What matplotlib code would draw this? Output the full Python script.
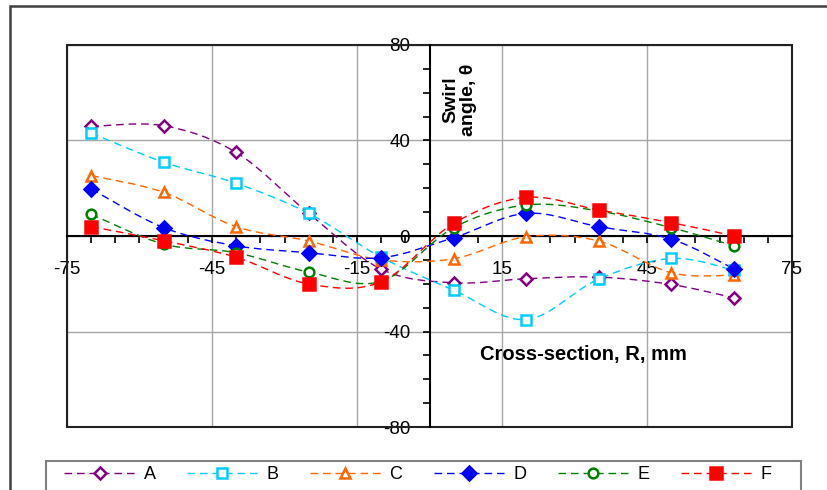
import matplotlib
matplotlib.use('Agg')
import matplotlib.pyplot as plt
from matplotlib.path import Path
from matplotlib.patches import PathPatch, Rectangle
from matplotlib.lines import Line2D
from matplotlib.ticker import MultipleLocator
import numpy as np

plt.rcParams['font.family'] = ['Liberation Sans', 'DejaVu Sans']

# radial positions across the section, mm
R = [-70, -55, -40, -25, -10, 5, 20, 35, 50, 63]

# swirl angle for each case, degrees
A = [45.9, 46.2, 35.0, 9.5, -13.9, -19.6, -17.9, -17.2, -20.3, -25.9]
B = [43.1, 30.9, 22.1, 9.5, -8.9, -22.7, -35.0, -18.0, -9.4, -14.3]
C = [25.3, 18.3, 3.9, -2.1, -10.0, -9.5, -0.3, -2.1, -15.4, -16.4]
D = [19.7, 3.5, -4.1, -7.0, -9.1, -0.7, 9.5, 3.9, -1.3, -13.8]
E = [9.1, -3.4, -7.0, -15.1, -19.0, 3.5, 13.0, 10.5, 3.5, -4.1]
F = [3.9, -2.0, -8.9, -20.1, -19.2, 5.3, 16.2, 10.9, 5.6, 0.0]

names = ['A', 'B', 'C', 'D', 'E', 'F']
series = [A, B, C, D, E, F]
colors = ['#800080', '#00CCFF', '#FF6600', '#0000FF', '#008000', '#FF0000']
markers = ['D', 's', '^', 'D', 'o', 's']
filled = [False, False, False, True, False, True]
msizes = [6, 7, 7.5, 7.5, 7, 8]

xticks = [-75, -45, -15, 15, 45, 75]
yticks = [-80, -40, 0, 40, 80]


def smooth_path(x, y):
    # bezier through the points, same tension as spreadsheet smoothed lines
    p = np.column_stack([x, y]).astype(float)
    n = len(p)
    verts = [p[0]]
    codes = [Path.MOVETO]
    for i in range(n - 1):
        p0 = p[i - 1] if i > 0 else p[i]
        p3 = p[i + 2] if i + 2 < n else p[i + 1]
        c1 = p[i] + (p[i + 1] - p0) / 6.0
        c2 = p[i + 1] - (p3 - p[i]) / 6.0
        verts += [c1, c2, p[i + 1]]
        codes += [Path.CURVE4] * 3
    return Path(verts, codes)


fig = plt.figure(figsize=(8.27, 4.90), dpi=100)
ax = fig.add_axes([67/827, 1 - 427/490, (792 - 67)/827, (427 - 45)/490])

ax.set_xlim(-75, 75)
ax.set_ylim(-80, 80)

handles = []
for name, yv, c, m, f, ms in zip(names, series, colors, markers, filled, msizes):
    ax.add_patch(PathPatch(smooth_path(R, yv), fill=False, edgecolor=c,
                           lw=1.0, linestyle=(0, (5.5, 3.5)), zorder=3))
    fc = c if f else 'white'
    ax.plot(R, yv, linestyle='none', marker=m, ms=ms, mfc=fc, mec=c,
            mew=1.8, zorder=4)
    handles.append(Line2D([], [], color=c, lw=1.0, linestyle=(0, (5.5, 3.5)),
                          marker=m, ms=ms, mfc=fc, mec=c, mew=1.8))

# axes crossing at the origin
for s in ['top', 'right']:
    ax.spines[s].set_visible(False)
ax.spines['left'].set_position(('data', 0))
ax.spines['bottom'].set_position(('data', 0))
for s in ['left', 'bottom']:
    ax.spines[s].set_linewidth(1.5)
    ax.spines[s].set_zorder(2)

# plot area frame
ax.add_patch(Rectangle((0, 0), 1, 1, transform=ax.transAxes, fill=False,
                       edgecolor='#222222', lw=1.5, zorder=2, clip_on=False))

ax.set_xticks(xticks)
ax.set_xticklabels([str(v) for v in xticks])
ax.xaxis.set_minor_locator(MultipleLocator(5))
ax.set_yticks(yticks)
ax.set_yticklabels([str(v) for v in yticks])
ax.yaxis.set_minor_locator(MultipleLocator(10))

ax.tick_params(axis='x', which='both', direction='out', length=5, width=1.2,
               labelsize=13.5, pad=13)
ax.tick_params(axis='y', which='both', direction='out', length=5, width=1.2,
               labelsize=13.5, pad=9)

ax.grid(True, which='major', color='#A6A6A6', lw=1.0, zorder=0)
ax.set_axisbelow(True)

ax.text(6.2, 57, 'Swirl\nangle, \u03b8', rotation=90, ha='center', va='center',
        fontsize=14, fontweight='bold', multialignment='center', linespacing=1.05)
ax.text(31.8, -49.5, 'Cross-section, R, mm', ha='center', va='center',
        fontsize=14.5, fontweight='bold')

# outer chart border
fig.add_artist(Rectangle((9.5/827, -0.1), 1.2, 1.1 - 6/490,
                         transform=fig.transFigure, fill=False,
                         edgecolor='#404040', lw=1.8))

# legend box, running off the bottom edge
fig.add_artist(Rectangle((46/827, -0.1), (801 - 46)/827, 0.1 + 1 - 461/490,
                         transform=fig.transFigure, fill=False,
                         edgecolor='#808080', lw=1.5))
leg = fig.legend(handles, names, loc='upper left', ncol=6,
                 bbox_to_anchor=(59/827, 1 - 461/490),
                 borderaxespad=0, fontsize=13, frameon=False,
                 handlelength=3.9, handletextpad=0.5, columnspacing=1.74,
                 borderpad=0.3, numpoints=1)

fig.savefig('out.png', dpi=100)
